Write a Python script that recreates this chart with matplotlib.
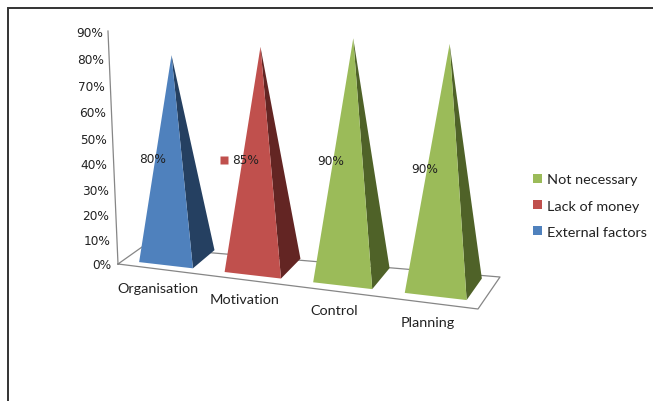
import numpy as np
import matplotlib
matplotlib.use("Agg")
import matplotlib.pyplot as plt
from matplotlib.patches import Patch, Polygon

# ---- data ----
categories = ["Organisation", "Motivation", "Control", "Planning"]
values = [80, 85, 90, 90]
series_names = ["Not necessary", "Lack of money", "External factors"]
point_series = [2, 1, 0, 0]          # which series each category belongs to
keyed_labels = [False, True, False, False]
ticks = [0, 10, 20, 30, 40, 50, 60, 70, 80, 90]

# ---- style / layout ----
front_colors = ["#9BBB59", "#C0504D", "#4F81BD"]
side_colors = ["#4F6228", "#632523", "#254061"]
F0, F1, B1, B0 = [np.array(p, float) for p in [(118, 265), (478, 310), (500, 278), (142, 248)]]
AXMAX = 90
FRONT_V = 0.22
LINE = "#868686"
TXT = "#222222"
plt.rcParams["font.family"] = ["DejaVu Sans"]
CATFONT = "Lato"


def height_px(value, u, wall=False):
    t = value / AXMAX
    base = 219 * t / (1 - 0.06 * t)
    return base * (1.0 if wall else 0.97 + 0.08 * u)


def project(u, v, value=0, wall=False):
    x, y = (1 - v) * (F0 + (F1 - F0) * u) + v * (B0 + (B1 - B0) * u)
    h = height_px(value, u, wall)
    lean = -0.043 if wall else -0.035 + 0.07 * u
    return x + lean * h, y - h


fig = plt.figure(figsize=(6.53, 4.02), dpi=100)
ax = fig.add_axes([0, 0, 1, 1])
ax.set_xlim(0, 653)
ax.set_ylim(402, 0)
ax.axis("off")

# outer frame (open at right and bottom)
ax.plot([8, 8, 653], [402, 9, 9], color="#333333", lw=1.4, solid_joinstyle="miter")

# floor and wall
corners = [project(0, 0), project(1, 0), project(1, 1), project(0, 1), project(0, 0)]
ax.plot(*zip(*corners), color=LINE, lw=0.9)
ax.plot(*zip(project(0, 0, 0, True), project(0, 0, AXMAX, True)), color=LINE, lw=0.9)

for t in ticks:
    x, y = project(0, 0, t, True)
    ax.text(x - 7 + 2 * t / AXMAX, y + 1, f"{t}%", ha="right", va="center", fontsize=8.7, color=TXT)

# pyramids
n = len(categories)
for i, (cat, val, s) in enumerate(zip(categories, values, point_series)):
    slot = (i + 0.5) / n
    uc = slot - 0.016 * np.sin(np.pi * slot)
    hw = 0.073 + 0.015 * uc
    dv = 0.95 - 0.3 * uc
    vb = FRONT_V + dv
    vc = FRONT_V + dv / 2
    apex = project(uc, vc, val)
    fl = project(uc - hw, FRONT_V)
    fr = project(uc + hw, FRONT_V)
    rb = project(uc + hw, vb)
    ax.add_patch(Polygon([fr, rb, apex], closed=True, fc=side_colors[s], ec="none", zorder=3))
    ax.add_patch(Polygon([fl, fr, apex], closed=True, fc=front_colors[s], ec="none", zorder=3))

    lx, ly = project(uc, vc, val / 2)
    lx -= 22
    if keyed_labels[i]:
        ax.plot(lx - 16, ly, marker="s", ms=6.2, mfc=front_colors[s], mec="none", zorder=5)
        ax.text(lx + 6, ly, f"{val}%", ha="center", va="center", fontsize=8.7, color=TXT, zorder=5)
    else:
        ax.text(lx, ly, f"{val}%", ha="center", va="center", fontsize=8.7, color=TXT, zorder=5)

    tx, ty = project(uc, 0)
    ax.text(tx - 3, ty + 19, cat, ha="center", va="center", fontsize=10.4,
            family=CATFONT, color=TXT)

handles = [Patch(fc=c, ec="none", label=nm) for c, nm in zip(front_colors, series_names)]
leg = ax.legend(handles=handles, loc="upper left", bbox_to_anchor=(533 / 653, 1 - 174.5 / 402),
                frameon=False, prop={"family": CATFONT, "size": 10.4},
                handlelength=0.62, handleheight=0.55, handletextpad=0.35,
                labelspacing=0.98, borderaxespad=0, borderpad=0)
for t in leg.get_texts():
    t.set_color(TXT)

fig.savefig("out.png", dpi=100)
